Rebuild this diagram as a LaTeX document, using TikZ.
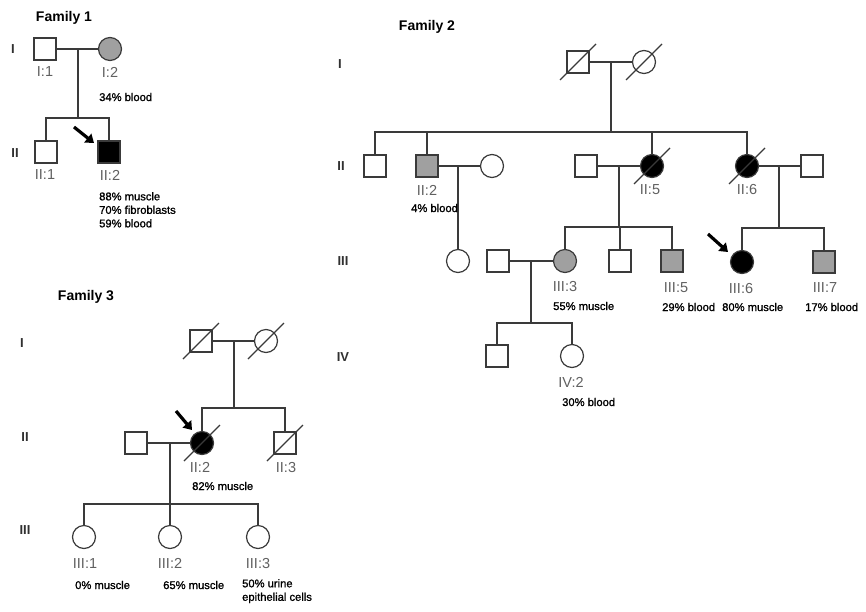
\documentclass[tikz,border=0pt]{standalone}
\usepackage{fontspec}
\setmainfont{Liberation Sans}
\newfontfamily\pctfont[FakeBold=1.2]{Liberation Sans}
\usetikzlibrary{arrows.meta}
\definecolor{lc}{HTML}{3A3A3A}
\definecolor{gfill}{HTML}{A0A0A0}
\definecolor{labgray}{HTML}{606060}
\definecolor{gengray}{HTML}{303030}
\begin{document}
\begin{tikzpicture}[x=1pt,y=-1pt,
  male/.style={draw=lc, line width=1.2pt, rectangle, minimum size=22pt, inner sep=0pt, fill=white},
  female/.style={draw=lc, line width=1.2pt, circle, minimum size=23pt, inner sep=0pt, fill=white},
  carrier/.style={fill=gfill},
  affected/.style={fill=black},
  link/.style={draw=lc, line width=1.2pt},
  slash/.style={draw=lc, line width=1.1pt},
  proband/.style={draw=black, line width=3.2pt, -{Triangle[length=8pt,width=11pt]}},
  famtitle/.style={font=\bfseries\fontsize{14}{16}\selectfont, inner sep=0pt},
  gen/.style={font=\bfseries\fontsize{13}{15}\selectfont, text=gengray, inner sep=0pt},
  lab/.style={font=\fontsize{14.5}{16}\selectfont, text=labgray, inner sep=0pt},
  pct/.style={font=\pctfont\fontsize{11.2}{13.5}\selectfont, anchor=west, inner sep=0pt, align=left},
]
\useasboundingbox (0,0) rectangle (866,611);

% ================= Family 1 =================
\node[famtitle] (t1) at (64,18) {Family 1};
\node[gen] (g1a) at (13,49) {I};
\node[gen] (g1b) at (15,153) {II};

\node[male] (f1I1) at (45,49) {};
\node[female, carrier] (f1I2) at (110,49) {};
\coordinate (f1m) at (78,49);
\coordinate (f1s) at (78,118);
\node[male] (f1II1) at (46,152) {};
\node[male, affected] (f1II2) at (109,152) {};

\draw[link] (f1I1) -- (f1I2);
\draw[link] (f1m) -- (f1s);
\draw[link] (f1II1.north) -- (f1II1.north |- f1s) -- (f1II2.north |- f1s) -- (f1II2.north);

\coordinate (a1s) at (74,127);
\coordinate (a1e) at (94,143);
\draw[proband] (a1s) -- (a1e);

\node[lab] (l1I1) at (45,72) {I:1};
\node[lab] (l1I2) at (110,72) {I:2};
\node[pct] (p1I2) at (99,97) {34\% blood};
\node[lab] (l1II1) at (45,175) {II:1};
\node[lab] (l1II2) at (110,175) {II:2};
\node[pct, anchor=north west] (p1II2) at (99,192) {88\% muscle\\70\% fibroblasts\\59\% blood};

% ================= Family 2 =================
\node[famtitle] (t2) at (427,27) {Family 2};
\node[gen] (g2a) at (340,64) {I};
\node[gen] (g2b) at (341,166) {II};
\node[gen] (g2c) at (343,261) {III};
\node[gen] (g2d) at (343,357) {IV};

\node[male] (f2I1) at (578,62) {};
\node[female] (f2I2) at (644,62) {};
\coordinate (f2m1) at (611,62);
\coordinate (f2s1) at (611,132);
\draw[link] (f2I1) -- (f2I2);
\draw[link] (f2m1) -- (f2s1);
\draw[slash] ([shift={(-18,18)}]f2I1.center) -- ([shift={(18,-18)}]f2I1.center);
\draw[slash] ([shift={(-18,18)}]f2I2.center) -- ([shift={(18,-18)}]f2I2.center);

\node[male] (f2II1) at (375,166) {};
\node[male, carrier] (f2II2) at (427,166) {};
\node[female] (f2II3) at (492,166) {};
\node[male] (f2II4) at (586,166) {};
\node[female, affected] (f2II5) at (652,166) {};
\node[female, affected] (f2II6) at (747,166) {};
\node[male] (f2II7) at (812,166) {};

\draw[link] (f2II1.north) -- (f2II1.north |- f2s1) -- (f2II6.north |- f2s1) -- (f2II6.north);
\draw[link] (f2II2.north) -- (f2II2.north |- f2s1);
\draw[link] (f2II5.north) -- (f2II5.north |- f2s1);
\draw[slash] ([shift={(-18,18)}]f2II5.center) -- ([shift={(18,-18)}]f2II5.center);
\draw[slash] ([shift={(-18,18)}]f2II6.center) -- ([shift={(18,-18)}]f2II6.center);

% II:2 x II:3
\draw[link] (f2II2) -- (f2II3);
\coordinate (f2m2) at (458,166);
\node[female] (f2III1) at (458,261) {};
\draw[link] (f2m2) -- (f2III1.north);

% II:4 x II:5
\draw[link] (f2II4) -- (f2II5);
\coordinate (f2m3) at (619,166);
\coordinate (f2s3) at (619,227);
\draw[link] (f2m3) -- (f2s3);
\node[female, carrier] (f2III3) at (565,261) {};
\node[male] (f2III4) at (620,261) {};
\node[male, carrier] (f2III5) at (672,261) {};
\draw[link] (f2III3.north) -- (f2III3.north |- f2s3) -- (f2III5.north |- f2s3) -- (f2III5.north);
\draw[link] (f2III4.north) -- (f2III4.north |- f2s3);

% II:6 x II:7
\draw[link] (f2II6) -- (f2II7);
\coordinate (f2m4) at (779,166);
\coordinate (f2s4) at (779,228);
\draw[link] (f2m4) -- (f2s4);
\node[female, affected] (f2III6) at (742,262) {};
\node[male, carrier] (f2III7) at (824,262) {};
\draw[link] (f2III6.north) -- (f2III6.north |- f2s4) -- (f2III7.north |- f2s4) -- (f2III7.north);

% III:2 x III:3
\node[male] (f2III2) at (498,261) {};
\draw[link] (f2III2) -- (f2III3);
\coordinate (f2m5) at (531,261);
\coordinate (f2s5) at (531,323);
\draw[link] (f2m5) -- (f2s5);
\node[male] (f2IV1) at (497,356) {};
\node[female] (f2IV2) at (572,356) {};
\draw[link] (f2IV1.north) -- (f2IV1.north |- f2s5) -- (f2IV2.north |- f2s5) -- (f2IV2.north);

\coordinate (a2s) at (708,234);
\coordinate (a2e) at (728,252);
\draw[proband] (a2s) -- (a2e);

\node[lab] (l2II2) at (427,190) {II:2};
\node[pct] (p2II2) at (411,208) {4\% blood};
\node[lab] (l2II5) at (650,190) {II:5};
\node[lab] (l2II6) at (747,190) {II:6};
\node[lab] (l2III3) at (565,287) {III:3};
\node[pct] (p2III3) at (553,306) {55\% muscle};
\node[lab] (l2III5) at (676,288) {III:5};
\node[pct] (p2III5) at (662,307) {29\% blood};
\node[lab] (l2III6) at (741,288) {III:6};
\node[pct] (p2III6) at (722,307) {80\% muscle};
\node[lab] (l2III7) at (825,288) {III:7};
\node[pct] (p2III7) at (805,307) {17\% blood};
\node[lab] (l2IV2) at (571,382) {IV:2};
\node[pct] (p2IV2) at (562,402) {30\% blood};

% ================= Family 3 =================
\node[famtitle] (t3) at (86,297) {Family 3};
\node[gen] (g3a) at (22,343) {I};
\node[gen] (g3b) at (25,437) {II};
\node[gen] (g3c) at (25,530) {III};

\node[male] (f3I1) at (201,341) {};
\node[female] (f3I2) at (266,341) {};
\draw[link] (f3I1) -- (f3I2);
\draw[slash] ([shift={(-18,18)}]f3I1.center) -- ([shift={(18,-18)}]f3I1.center);
\draw[slash] ([shift={(-18,18)}]f3I2.center) -- ([shift={(18,-18)}]f3I2.center);
\coordinate (f3m1) at (234,341);
\coordinate (f3s1) at (234,408);
\draw[link] (f3m1) -- (f3s1);

\node[male] (f3II1) at (136,443) {};
\node[female, affected] (f3II2) at (202,443) {};
\node[male] (f3II3) at (285,443) {};
\draw[link] (f3II2.north) -- (f3II2.north |- f3s1) -- (f3II3.north |- f3s1) -- (f3II3.north);
\draw[slash] ([shift={(-18,18)}]f3II2.center) -- ([shift={(18,-18)}]f3II2.center);
\draw[slash] ([shift={(-18,18)}]f3II3.center) -- ([shift={(18,-18)}]f3II3.center);

\draw[link] (f3II1) -- (f3II2);
\coordinate (f3m2) at (170,443);
\coordinate (f3s2) at (170,504);
\draw[link] (f3m2) -- (f3s2);
\node[female] (f3III1) at (84,537) {};
\node[female] (f3III2) at (170,537) {};
\node[female] (f3III3) at (258,537) {};
\draw[link] (f3III1.north) -- (f3III1.north |- f3s2) -- (f3III3.north |- f3s2) -- (f3III3.north);
\draw[link] (f3III2.north) -- (f3III2.north |- f3s2);

\coordinate (a3s) at (176,411);
\coordinate (a3e) at (192,430);
\draw[proband] (a3s) -- (a3e);

\node[lab] (l3II2) at (200,467) {II:2};
\node[pct] (p3II2) at (192,486) {82\% muscle};
\node[lab] (l3II3) at (286,467) {II:3};
\node[lab] (l3III1) at (85,563) {III:1};
\node[lab] (l3III2) at (170,563) {III:2};
\node[lab] (l3III3) at (258,563) {III:3};
\node[pct] (p3III1) at (75,585) {0\% muscle};
\node[pct] (p3III2) at (163,585) {65\% muscle};
\node[pct, anchor=north west] (p3III3) at (242,579) {50\% urine\\epithelial cells};
\end{tikzpicture}
\end{document}
